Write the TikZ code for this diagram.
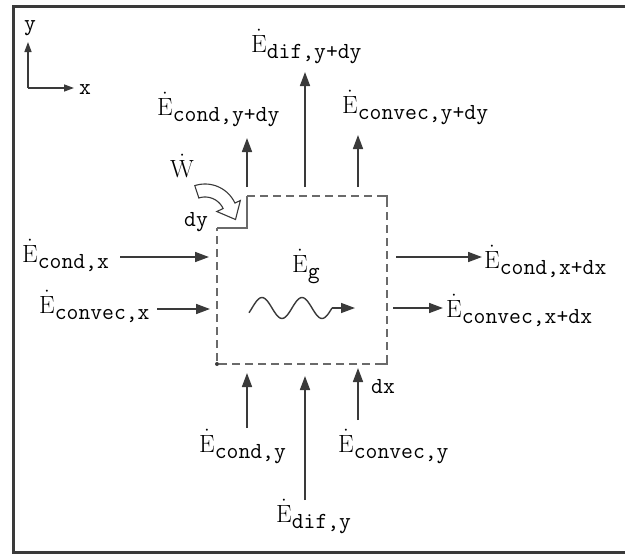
\documentclass[tikz,border=0pt]{standalone}
\usetikzlibrary{arrows.meta}
\definecolor{ln}{HTML}{3A3A3A}
\definecolor{dsh}{HTML}{6A6A6A}
\newcommand{\subff}{\ttfamily}
\newcommand{\subf}[1]{\raisebox{-6pt}{\fontsize{23}{24}\selectfont\subff #1}}
\newcommand{\Edot}[1]{$\dot{\mathrm{E}}$\subf{#1}}
\begin{document}
\begin{tikzpicture}[x=1pt,y=-1pt,
  font=\fontsize{25}{28}\selectfont,
  lbl/.style={anchor=base west, inner sep=0pt, text=black},
  arr/.style={draw=ln, line width=1.6pt, -{Triangle[length=14pt,width=10pt,fill=ln]}},
  boxline/.style={draw=dsh, line width=1.6pt, dash pattern=on 8pt off 5pt}]
\useasboundingbox (0,0) rectangle (625,555);
% frame
\draw[ln, line width=3pt] (632,6) -- (13,6) -- (13,552) -- (632,552);
% axes
\coordinate (o) at (28,88);
\coordinate (ya) at (28,42);
\coordinate (xa) at (74,88);
\draw[draw=ln, line width=1.4pt, -{Triangle[length=10pt,width=7pt,fill=ln]}] (o) -- (ya);
\draw[draw=ln, line width=1.4pt, -{Triangle[length=10pt,width=7pt,fill=ln]}] (o) -- (xa);
\node[lbl] (ly) at (24,30) {\subff\fontsize{23}{24}\selectfont y};
\node[lbl] (lx) at (79,94) {\subff\fontsize{23}{24}\selectfont x};
% control volume
\draw[boxline] (247,196) -- (387,196) -- (387,364) -- (217,364) -- (217,228);
\draw[dsh, line width=1.4pt] (217,228) -- (247,228) -- (247,196);
\draw[dsh, line width=1.4pt] (379,196) -- (387,196) -- (387,204);
\draw[dsh, line width=1.4pt] (387,356) -- (387,364) -- (379,364);
\fill[ln] (217,364) circle (2pt);
% work arrow (hollow curved)
\draw[ln, line width=1.1pt, fill=white]
  plot[domain=-108:-25, samples=25] ({205+33*cos(\x)},{217+33*sin(\x)})
  -- ({205+39*cos(-25)},{217+39*sin(-25)})
  -- (235.5,219.5)
  -- ({205+13*cos(-25)},{217+13*sin(-25)})
  -- ({205+20*cos(-25)},{217+20*sin(-25)})
  -- plot[domain=-25:-108, samples=25] ({205+20*cos(\x)},{217+20*sin(\x)})
  -- cycle;
\node[lbl] (W) at (170,177) {$\dot{\mathrm{W}}$};
\node[lbl] (dy) at (184,226) {\subff\fontsize{23}{24}\selectfont dy};
% generation
\node[lbl] (Eg) at (292,272) {$\dot{\mathrm{E}}$\subf{g}};
\coordinate (w0) at (332,308);
\coordinate (w1) at (355,308);
\draw[ln, line width=1.4pt] plot[domain=249:332, samples=60] (\x,{308-10.5*sin(9*(\x-252))});
\draw[draw=ln, line width=1.4pt, -{Triangle[length=14pt,width=10pt,fill=ln]}] (w0) -- (w1);
% left inflows
\coordinate (a1s) at (120,257); \coordinate (a1e) at (209,257);
\coordinate (a2s) at (157,309); \coordinate (a2e) at (210,309);
\draw[arr] (a1s) -- (a1e);
\draw[arr] (a2s) -- (a2e);
\node[lbl] (Econdx) at (22,262) {\Edot{cond,x}};
\node[lbl] (Econvx) at (39,313) {\Edot{convec,x}};
% right outflows
\coordinate (a3s) at (396,257); \coordinate (a3e) at (482,257);
\coordinate (a4s) at (393,308); \coordinate (a4e) at (443,308);
\draw[arr] (a3s) -- (a3e);
\draw[arr] (a4s) -- (a4e);
\node[lbl] (Econdxdx) at (484,268) {\Edot{cond,x+dx}};
\node[lbl] (Econvxdx) at (446,317) {\Edot{convec,x+dx}};
% top outflows
\coordinate (t1s) at (247,187); \coordinate (t1e) at (247,138);
\coordinate (t2s) at (305,187); \coordinate (t2e) at (305,72);
\coordinate (t3s) at (358,187); \coordinate (t3e) at (358,135);
\draw[arr] (t1s) -- (t1e);
\draw[arr] (t2s) -- (t2e);
\draw[arr] (t3s) -- (t3e);
\node[lbl] (Edifydy) at (251,52) {\Edot{dif,y+dy}};
\node[lbl] (Econdydy) at (157,115) {\Edot{cond,y+dy}};
\node[lbl] (Econvydy) at (342,113) {\Edot{convec,y+dy}};
% bottom inflows
\coordinate (b1s) at (247,428); \coordinate (b1e) at (247,373);
\coordinate (b2s) at (305,500); \coordinate (b2e) at (305,376);
\coordinate (b3s) at (358,420); \coordinate (b3e) at (358,368);
\draw[arr] (b1s) -- (b1e);
\draw[arr] (b2s) -- (b2e);
\draw[arr] (b3s) -- (b3e);
\node[lbl] (dx) at (371,393) {\subff\fontsize{23}{24}\selectfont dx};
\node[lbl] (Econdy) at (199,452) {\Edot{cond,y}};
\node[lbl] (Econvy) at (338,452) {\Edot{convec,y}};
\node[lbl] (Edify) at (276,522) {\Edot{dif,y}};
\end{tikzpicture}
\end{document}
